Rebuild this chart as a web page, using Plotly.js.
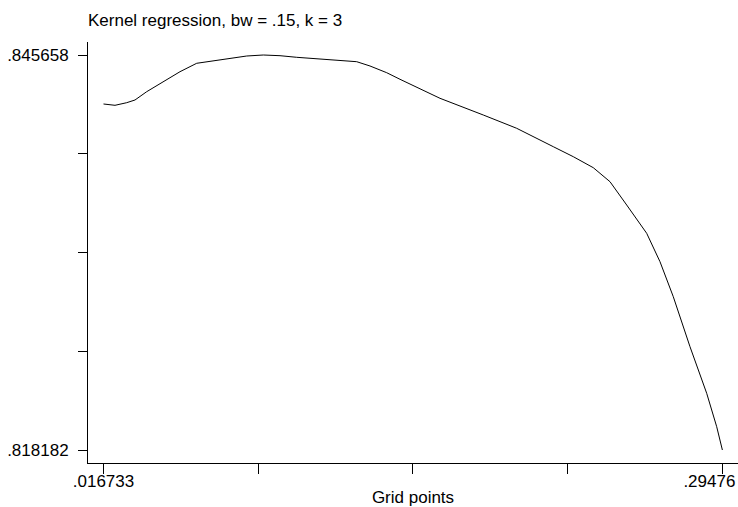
<!DOCTYPE html>
<html>
<head>
<meta charset="utf-8">
<script src="https://cdn.plot.ly/plotly-3.0.1.min.js"></script>
<style>
html,body{margin:0;padding:0;background:#fff;}
#chart{width:738px;height:507px;}
</style>
</head>
<body>
<div id="chart"></div>
<script>
// Grid points (x) and kernel regression estimates (y)
var gridPoints = [0.016733, 0.021899, 0.027155, 0.030884, 0.036140, 0.043597, 0.051099, 0.058601,
  0.066058, 0.073561, 0.081063, 0.088520, 0.096022, 0.103524, 0.110981, 0.118483, 0.130478,
  0.136452, 0.143955, 0.149930, 0.167899, 0.187351, 0.202355, 0.218797, 0.227782, 0.236766,
  0.244268, 0.251771, 0.260755, 0.266730, 0.272705, 0.280207, 0.287709, 0.292202, 0.29476];
var estimates = [0.842250, 0.842159, 0.842340, 0.842528, 0.843105, 0.843801, 0.844496, 0.845081,
  0.845262, 0.845449, 0.845588, 0.845658, 0.845609, 0.845498, 0.845401, 0.845331, 0.845192,
  0.844893, 0.844427, 0.843968, 0.842646, 0.841484, 0.840559, 0.839279, 0.838584, 0.837819,
  0.836845, 0.835224, 0.833255, 0.831280, 0.828845, 0.825367, 0.822126, 0.819802, 0.818182];

var xTickVals = [0.016733, 0.086240, 0.155747, 0.225253, 0.29476];
var xTickText = [".016733", "", "", "", ""];
// the last x label is drawn by an overlaid axis so it can be nudged inside the page
var xLastTickVals = [0.29476];
var xLastTickText = [".29476"];
var yTickVals = [0.818182, 0.825051, 0.831920, 0.838789, 0.845658];
var yTickText = [".818182", "", "", "", ".845658"];

var titleText = "Kernel regression, bw = .15, k = 3";
var xTitle = "Grid points";

var FONT = "Liberation Sans, Arial, sans-serif";
var xRange = [0.009770, 0.301773];

var trace = {
  x: gridPoints,
  y: estimates,
  type: "scatter",
  mode: "lines",
  line: {color: "#000000", width: 1},
  hoverinfo: "skip",
  showlegend: false
};
var helper = {
  x: gridPoints,
  y: estimates,
  xaxis: "x2",
  type: "scatter",
  mode: "lines",
  line: {color: "rgba(0,0,0,0)", width: 0},
  hoverinfo: "skip",
  showlegend: false
};

var layout = {
  width: 738,
  height: 507,
  paper_bgcolor: "#ffffff",
  plot_bgcolor: "#ffffff",
  margin: {l: 88, r: 0, t: 42, b: 44, pad: 0},
  font: {family: FONT, size: 17, color: "#000000"},
  title: {
    text: titleText,
    font: {family: FONT, size: 17, color: "#000000"},
    x: 88 / 738, xref: "container", xanchor: "left",
    y: 1 - 20.5 / 507, yref: "container", yanchor: "middle"
  },
  xaxis: {
    range: xRange,
    tickmode: "array",
    tickvals: xTickVals,
    ticktext: xTickText,
    ticks: "outside",
    ticklen: 10,
    tickwidth: 1,
    tickcolor: "#000000",
    showline: true,
    linecolor: "#000000",
    linewidth: 1,
    showgrid: false,
    zeroline: false,
    tickfont: {family: FONT, size: 17, color: "#000000"},
    ticklabelstandoff: -7,
    automargin: false,
    title: {text: xTitle, font: {family: FONT, size: 17, color: "#000000"}, standoff: 0}
  },
  xaxis2: {
    overlaying: "x",
    side: "bottom",
    range: xRange,
    tickmode: "array",
    tickvals: xLastTickVals,
    ticktext: xLastTickText,
    ticks: "outside",
    ticklen: 10,
    tickwidth: 1,
    tickcolor: "rgba(0,0,0,0)",
    showline: false,
    showgrid: false,
    zeroline: false,
    tickfont: {family: FONT, size: 17, color: "#000000"},
    ticklabelstandoff: -7,
    ticklabelshift: -13,
    automargin: false
  },
  yaxis: {
    range: [0.817278, 0.846562],
    tickmode: "array",
    tickvals: yTickVals,
    ticktext: yTickText,
    ticks: "outside",
    ticklen: 9,
    tickwidth: 1,
    tickcolor: "#000000",
    showline: true,
    linecolor: "#000000",
    linewidth: 1,
    showgrid: false,
    zeroline: false,
    tickfont: {family: FONT, size: 17, color: "#000000"},
    ticklabelstandoff: 6,
    automargin: false
  }
};

Plotly.newPlot("chart", [trace, helper], layout, {staticPlot: true, displayModeBar: false});
</script>
</body>
</html>
